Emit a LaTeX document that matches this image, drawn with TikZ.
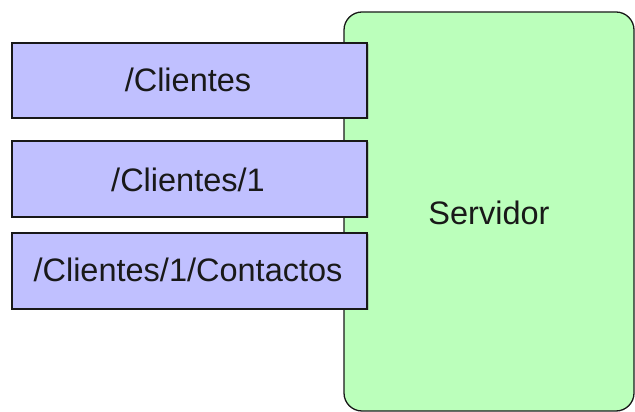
\documentclass[tikz,border=0pt]{standalone}
\usepackage{fontspec}
\setmainfont{Liberation Sans}
\usetikzlibrary{shadows}
\definecolor{resblue}{HTML}{C0C0FF}
\definecolor{srvgreen}{HTML}{BBFFBB}
\begin{document}
\begin{tikzpicture}[x=1pt,y=1pt,
  res/.style={draw=black!90, line width=1.3pt, fill=resblue, drop shadow={shadow xshift=1.5pt, shadow yshift=-1.5pt, opacity=0.35}},
  srv/.style={draw=black!90, line width=1.3pt, fill=srvgreen, rounded corners=18pt},
  lbl/.style={font=\fontsize{32.5}{36}\selectfont, text=black!90}]
\useasboundingbox (0,0) rectangle (635,412);
\draw[srv] (344,1) rectangle (634,400);
\node[lbl] (srvlabel) at (489,199) {Servidor};
\draw[res] (12,294) rectangle (367,369);
\draw[res] (12,195) rectangle (367,271);
\draw[res] (12,103) rectangle (367,179);
\node[lbl] (r1) at (188,332) {/Clientes};
\node[lbl] (r2) at (188,232) {/Clientes/1};
\node[lbl] (r3) at (188,142) {/Clientes/1/Contactos};
\end{tikzpicture}
\end{document}
